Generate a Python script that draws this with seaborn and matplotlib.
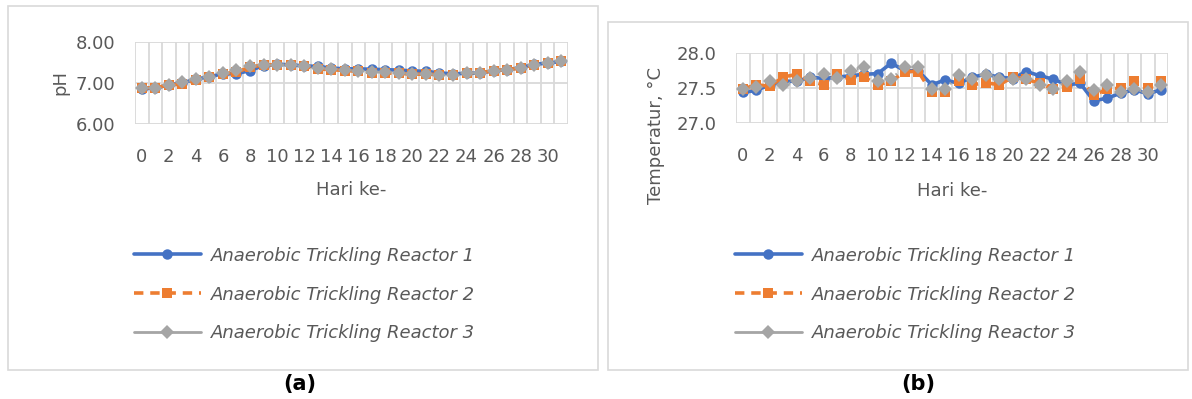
import matplotlib
matplotlib.use("Agg")
import matplotlib.pyplot as plt
import seaborn as sns
import numpy as np
from matplotlib.patches import Rectangle
from matplotlib.lines import Line2D
from matplotlib.ticker import FormatStrFormatter

# ---------------- data ----------------
days = list(range(32))
tick_days = days[::2]
series_names = ["Anaerobic Trickling Reactor 1",
                "Anaerobic Trickling Reactor 2",
                "Anaerobic Trickling Reactor 3"]

ph_r1 = [6.86, 6.87, 6.95, 7.00, 7.09, 7.15, 7.22, 7.22, 7.30, 7.42, 7.45, 7.44,
         7.41, 7.40, 7.36, 7.34, 7.34, 7.33, 7.32, 7.31, 7.29, 7.28, 7.24, 7.22,
         7.23, 7.24, 7.29, 7.32, 7.37, 7.45, 7.48, 7.52]
ph_r2 = [6.88, 6.88, 6.95, 6.97, 7.08, 7.15, 7.22, 7.26, 7.38, 7.44, 7.44, 7.44,
         7.40, 7.34, 7.32, 7.30, 7.28, 7.25, 7.24, 7.23, 7.21, 7.21, 7.20, 7.20,
         7.23, 7.24, 7.30, 7.32, 7.36, 7.44, 7.48, 7.52]
ph_r3 = [6.88, 6.88, 6.95, 7.02, 7.10, 7.15, 7.23, 7.31, 7.40, 7.44, 7.44, 7.44,
         7.40, 7.36, 7.34, 7.32, 7.30, 7.26, 7.26, 7.25, 7.22, 7.22, 7.20, 7.20,
         7.23, 7.24, 7.30, 7.32, 7.36, 7.44, 7.48, 7.52]

temp_r1 = [27.44, 27.47, 27.55, 27.60, 27.60, 27.66, 27.64, 27.66, 27.68, 27.70, 27.71, 27.86,
           27.75, 27.75, 27.55, 27.62, 27.57, 27.66, 27.70, 27.66, 27.64, 27.74, 27.68, 27.63,
           27.55, 27.57, 27.32, 27.36, 27.43, 27.48, 27.42, 27.48]
temp_r2 = [27.49, 27.55, 27.53, 27.66, 27.70, 27.60, 27.55, 27.71, 27.62, 27.66, 27.55, 27.60,
           27.74, 27.74, 27.44, 27.44, 27.61, 27.55, 27.58, 27.55, 27.66, 27.63, 27.57, 27.49,
           27.52, 27.64, 27.40, 27.49, 27.50, 27.60, 27.50, 27.60]
temp_r3 = [27.49, 27.52, 27.60, 27.55, 27.60, 27.65, 27.70, 27.65, 27.75, 27.81, 27.60, 27.63,
           27.81, 27.80, 27.49, 27.49, 27.69, 27.63, 27.69, 27.64, 27.64, 27.64, 27.55, 27.49,
           27.60, 27.74, 27.48, 27.55, 27.44, 27.49, 27.44, 27.55]

ph_yticks = [6.0, 7.0, 8.0]
temp_yticks = [27.0, 27.5, 28.0]

# ---------------- style ----------------
sns.set_theme(style="white")
plt.rcParams['font.family'] = ['DejaVu Sans']

TXT = "#595959"
GRID = "#D9D9D9"
colors = ["#4472C4", "#ED7D31", "#A5A5A5"]
markers = ["o", "s", "D"]
msizes = [7.5, 7.5, 7.0]
lstyles = ["-", (0, (2.6, 1.9)), (0, (0.6, 8))]
lwidths = [2.6, 2.6, 2.0]
FS = 13

W, H = 1192, 399
fig = plt.figure(figsize=(W / 100, H / 100), dpi=100)

ax_a = fig.add_axes([135 / W, 1 - 124 / H, 433 / W, 82.3 / H])
ax_b = fig.add_axes([736 / W, 1 - 123.3 / H, 432 / W, 70 / H])


def draw(ax, series, yticks, ylim, fmt):
    for vals, c, m, ms, ls, lw in zip(series, colors, markers, msizes, lstyles, lwidths):
        sns.lineplot(x=days, y=vals, ax=ax, color=c, marker=m, markersize=ms,
                     linestyle=ls, linewidth=lw, markeredgewidth=0,
                     errorbar=None, legend=False)
    ax.set_xlim(-0.5, 31.5)
    ax.set_ylim(*ylim)
    ax.set_xticks(tick_days)
    ax.set_xticklabels([str(d) for d in tick_days])
    ax.set_xticks(np.arange(-0.5, 32, 1), minor=True)
    ax.set_yticks(yticks)
    ax.yaxis.set_major_formatter(FormatStrFormatter(fmt))
    ax.grid(False)
    ax.grid(True, which="minor", axis="x", color=GRID, linewidth=1.3)
    ax.grid(True, which="major", axis="y", color=GRID, linewidth=1.3)
    ax.set_axisbelow(True)
    for s in ax.spines.values():
        s.set_visible(False)
    ax.tick_params(axis="both", which="both", length=0, labelsize=FS, labelcolor=TXT)
    ax.tick_params(axis="x", pad=17)
    ax.tick_params(axis="y", pad=14)


draw(ax_a, [ph_r1, ph_r2, ph_r3], ph_yticks, (6.0, 8.0), "%.2f")
draw(ax_b, [temp_r1, temp_r2, temp_r3], temp_yticks, (27.0, 28.0), "%.1f")

ax_a.set_xlabel("Hari ke-", fontsize=FS, color=TXT)
ax_a.xaxis.label.set_va("center")
ax_a.xaxis.set_label_coords(0.5, (124 - 190) / 82.3)
ax_a.set_ylabel("pH", fontsize=FS, color=TXT)
ax_a.yaxis.label.set_va("center")
ax_a.yaxis.set_label_coords((60 - 135) / 433, 0.5)

ax_b.set_xlabel("Hari ke-", fontsize=FS, color=TXT)
ax_b.xaxis.label.set_va("center")
ax_b.xaxis.set_label_coords(0.5, (123.3 - 191) / 70)
ax_b.set_ylabel("Temperatur, \u00b0C", fontsize=FS, color=TXT)
ax_b.yaxis.label.set_va("center")
ax_b.yaxis.set_label_coords((656 - 736) / 432, (123.3 - 135) / 70)

# legends
handles = [Line2D([], [], color=c, marker=m, markersize=ms, linestyle=ls if i == 1 else "-",
                  linewidth=lw, markeredgewidth=0)
           for i, (c, m, ms, lw, ls) in enumerate(zip(colors, markers, msizes, lwidths, lstyles))]
for x0 in (134, 735):
    fig.legend(handles, series_names, loc="center left",
               bbox_to_anchor=(x0 / W, 1 - 294.5 / H), frameon=False,
               prop={"style": "italic", "size": FS}, labelcolor=TXT,
               handlelength=3.7, handletextpad=0.55, labelspacing=1.15,
               borderpad=0, borderaxespad=0)

# panel frames
fig.patches.append(Rectangle((8 / W, 1 - 370 / H), 590 / W, 364 / H, transform=fig.transFigure,
                             fill=False, edgecolor=GRID, linewidth=1.2))
fig.patches.append(Rectangle((608 / W, 1 - 370 / H), 580 / W, 348 / H, transform=fig.transFigure,
                             fill=False, edgecolor=GRID, linewidth=1.2))

fig.text(300 / W, 1 - 384 / H, "(a)", ha="center", va="center", fontsize=15, fontweight="bold", color="black")
fig.text(918 / W, 1 - 384 / H, "(b)", ha="center", va="center", fontsize=15, fontweight="bold", color="black")

fig.savefig("out.png", dpi=100)
